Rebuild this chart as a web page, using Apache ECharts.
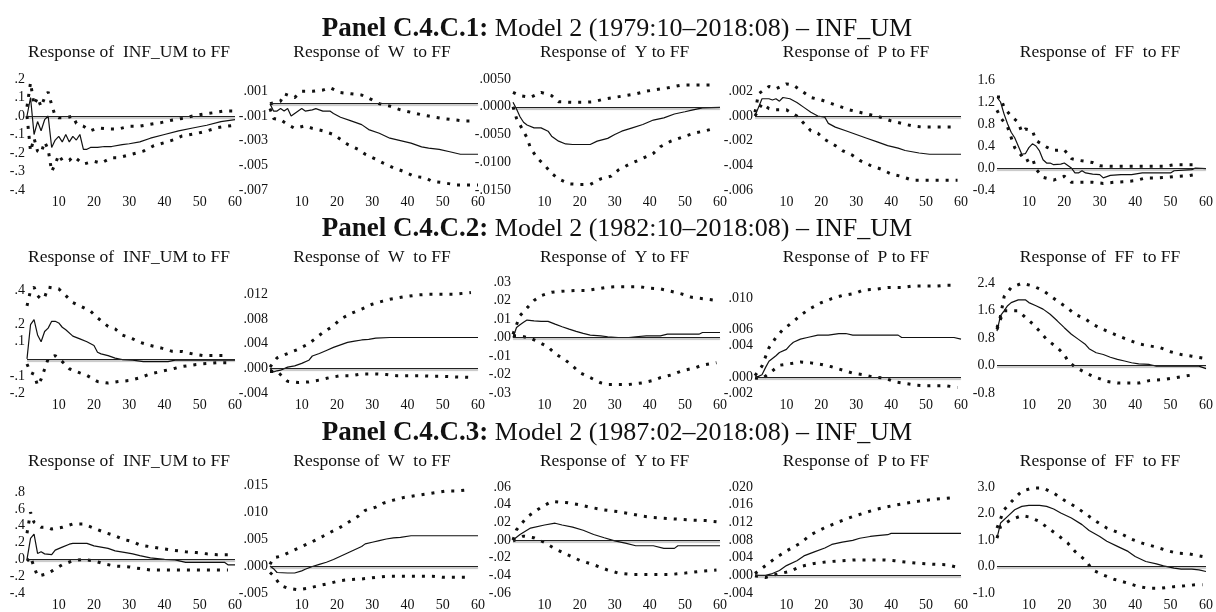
<!DOCTYPE html>
<html>
<head>
<meta charset="utf-8">
<script src="https://cdn.jsdelivr.net/npm/echarts@6/dist/echarts.min.js"></script>
<style>
  html, body { margin: 0; padding: 0; background: #fff; }
  #chart { width: 1216px; height: 612px; }
</style>
</head>
<body>
<div id="chart"></div>
<script>
// ---- Horizon axis (months after the FF shock) ----
const periodTicks = [10, 20, 30, 40, 50, 60];

// ---- Panel headings ----
const panelIds = ['Panel C.4.C.1:', 'Panel C.4.C.2:', 'Panel C.4.C.3:'];
const panelSamples = [' Model 2 (1979:10\u20132018:08) \u2013 INF_UM',
                      ' Model 2 (1982:10\u20132018:08) \u2013 INF_UM',
                      ' Model 2 (1987:02\u20132018:08) \u2013 INF_UM'];
const responseTitles = ['Response of  INF_UM to FF', 'Response of  W  to FF',
                        'Response of  Y to FF', 'Response of  P to FF', 'Response of  FF  to FF'];

// ================= Panel C.4.C.1 (1979:10–2018:08) =================
const inf1Ticks = ['.2', '.1', '.0', '-.1', '-.2', '-.3', '-.4'];
const inf1Resp = [[1,0],[2,0.1],[3,-0.1],[4,-0.03],[5,-0.08],[6,-0.02],[7,0.0],[8,-0.17],[9,-0.13],[10,-0.11],[11,-0.14],[12,-0.1],[13,-0.14],[14,-0.11],[15,-0.13],[16,-0.1],[17,-0.18],[18,-0.18],[19,-0.17],[21,-0.17],[23,-0.165],[25,-0.165],[28,-0.155],[30,-0.15],[33,-0.14],[36,-0.12],[40,-0.1],[44,-0.08],[48,-0.065],[52,-0.05],[56,-0.03],[60,-0.02]];
const inf1Upper = [[1,0.05],[2,0.18],[3,0.06],[4,0.1],[5,0.05],[6,0.1],[7,0.13],[8,0.06],[9,0.0],[10,-0.01],[12,-0.01],[14,0.0],[15,-0.04],[17,-0.055],[19,-0.08],[21,-0.065],[24,-0.07],[27,-0.07],[30,-0.055],[33,-0.055],[36,-0.045],[39,-0.036],[42,-0.023],[45,-0.013],[48,0.0],[51,0.01],[54,0.018],[57,0.027],[60,0.027]];
const inf1Lower = [[1,0],[2,-0.19],[3,-0.12],[4,-0.19],[5,-0.2],[6,-0.14],[7,-0.18],[8,-0.3],[9,-0.26],[10,-0.21],[11,-0.24],[13,-0.24],[14,-0.22],[15,-0.23],[17,-0.26],[20,-0.245],[22,-0.255],[25,-0.225],[27,-0.225],[30,-0.21],[34,-0.19],[37,-0.16],[40,-0.144],[43,-0.126],[45,-0.108],[49,-0.095],[52,-0.081],[55,-0.063],[58,-0.054],[60,-0.05]];

const w1Ticks = ['.001', '-.001', '-.003', '-.005', '-.007'];
const w1Resp = [[1,0],[2,-0.0006],[3,-0.0006],[4,-0.0004],[5,-0.0006],[6,-0.0004],[7,-0.001],[9,-0.0006],[10,-0.0004],[11,-0.0006],[13,-0.0005],[14,-0.0004],[16,-0.0006],[18,-0.0006],[19,-0.0008],[21,-0.0011],[24,-0.0014],[27,-0.0017],[29,-0.0021],[32,-0.0024],[35,-0.0028],[38,-0.003],[41,-0.0032],[44,-0.0035],[46,-0.0036],[49,-0.0037],[52,-0.0039],[55,-0.0041],[60,-0.0041]];
const w1Upper = [[1,0],[4,0.0002],[5,0.0008],[8,0.0005],[10,0.001],[13,0.001],[16,0.0011],[18,0.0013],[21,0.0009],[24,0.0008],[27,0.0007],[30,0.0003],[32,0.0],[35,-0.0002],[38,-0.0005],[41,-0.0007],[44,-0.0009],[46,-0.001],[50,-0.0012],[53,-0.0013],[56,-0.0014],[59,-0.0014]];
const w1Lower = [[1,-0.0004],[2,-0.0012],[4,-0.0013],[6,-0.0017],[8,-0.002],[11,-0.0018],[13,-0.002],[16,-0.0022],[19,-0.0025],[21,-0.0029],[23,-0.0033],[26,-0.0037],[28,-0.0041],[31,-0.0045],[33,-0.0048],[36,-0.0052],[39,-0.0055],[42,-0.0059],[45,-0.006],[47,-0.0063],[50,-0.0064],[54,-0.0066],[57,-0.0066],[60,-0.0066]];

const y1Ticks = ['.0050', '.0000', '-.0050', '-.0100', '-.0150'];
const y1Resp = [[1,0.0008],[2,-0.0004],[3,-0.0018],[4,-0.0028],[5,-0.0033],[7,-0.0038],[9,-0.0038],[11,-0.0044],[12,-0.0053],[14,-0.0062],[16,-0.0067],[18,-0.0068],[21,-0.0068],[23,-0.0068],[25,-0.0062],[28,-0.0057],[30,-0.005],[32,-0.0044],[35,-0.0038],[38,-0.0032],[41,-0.0024],[44,-0.002],[47,-0.0013],[50,-0.0009],[52,-0.0006],[55,-0.0002],[60,-0.0001]];
const y1Upper = [[1,0.0026],[3,0.002],[6,0.0017],[9,0.0026],[12,0.002],[14,0.0009],[18,0.0008],[21,0.0008],[24,0.0009],[27,0.0014],[30,0.0017],[33,0.002],[36,0.0023],[39,0.0028],[42,0.0031],[45,0.0034],[49,0.0039],[52,0.0039],[55,0.0039],[59,0.0039]];
const y1Lower = [[1,0],[2,-0.0021],[5,-0.0056],[6,-0.0075],[8,-0.0093],[10,-0.0105],[12,-0.012],[14,-0.013],[17,-0.0139],[20,-0.014],[23,-0.014],[26,-0.013],[29,-0.0125],[31,-0.0114],[34,-0.0104],[38,-0.0093],[41,-0.0084],[43,-0.0072],[46,-0.0062],[50,-0.0053],[53,-0.0047],[56,-0.0043],[59,-0.0038]];

const p1Ticks = ['.002', '.000', '-.002', '-.004', '-.006'];
const p1Resp = [[1,0],[2,0.0007],[3,0.0014],[5,0.0014],[6,0.0013],[7,0.0014],[8,0.0012],[9,0.0015],[11,0.0014],[13,0.0011],[15,0.0007],[17,0.0003],[19,0.0],[21,-0.0001],[22,-0.0006],[24,-0.0009],[27,-0.0012],[30,-0.0015],[33,-0.0018],[36,-0.0021],[39,-0.0024],[42,-0.0026],[44,-0.0028],[48,-0.003],[51,-0.0031],[60,-0.0031]];
const p1Upper = [[1,0.0003],[2,0.0018],[5,0.0024],[7,0.0022],[10,0.0026],[12,0.0025],[15,0.0019],[17,0.0015],[20,0.0013],[22,0.0011],[25,0.0008],[28,0.0005],[31,0.0003],[34,0.0001],[37,-0.0001],[40,-0.0004],[43,-0.0006],[46,-0.0008],[49,-0.0009],[52,-0.0009],[56,-0.0009],[59,-0.0009]];
const p1Lower = [[1,0],[3,0.001],[5,0.0006],[7,0.0005],[10,0.0005],[13,0],[15,-0.0006],[17,-0.0012],[19,-0.0014],[21,-0.0019],[24,-0.0024],[26,-0.0028],[29,-0.0032],[31,-0.0036],[34,-0.004],[37,-0.0043],[40,-0.0047],[43,-0.0049],[46,-0.0052],[49,-0.0052],[52,-0.0052],[56,-0.0052],[59,-0.0052]];

const ff1Ticks = ['1.6', '1.2', '0.8', '0.4', '0.0', '-0.4'];
const ff1Resp = [[1,1.29],[2,1.2],[3,0.98],[4,0.8],[5,0.65],[6,0.55],[7,0.4],[8,0.25],[9,0.26],[10,0.37],[11,0.44],[12,0.4],[13,0.31],[14,0.15],[15,0.09],[16,0.09],[17,0.06],[19,0.07],[20,0.09],[22,0.0],[23,-0.09],[24,-0.09],[25,-0.05],[26,-0.09],[28,-0.11],[30,-0.12],[31,-0.18],[33,-0.135],[36,-0.12],[39,-0.12],[42,-0.09],[47,-0.09],[50,-0.09],[51,-0.05],[56,-0.03],[57,0.0],[60,-0.01]];
const ff1Upper = [[1,1.29],[2,1.29],[3,1.1],[5,0.94],[7,0.83],[8,0.65],[9,0.71],[11,0.68],[12,0.5],[15,0.38],[17,0.32],[20,0.33],[22,0.17],[24,0.14],[28,0.1],[30,0.04],[33,0.03],[37,0.03],[39,0.03],[42,0.03],[45,0.03],[48,0.03],[51,0.06],[54,0.06],[57,0.06]];
const ff1Lower = [[1,1.05],[2,0.92],[4,0.74],[6,0.37],[8,0.22],[9,0.12],[11,0.18],[12,-0.02],[14,-0.17],[17,-0.22],[20,-0.15],[22,-0.26],[25,-0.26],[28,-0.26],[31,-0.28],[34,-0.26],[37,-0.25],[40,-0.23],[43,-0.18],[46,-0.18],[49,-0.17],[52,-0.15],[55,-0.14],[58,-0.11]];

// ================= Panel C.4.C.2 (1982:10–2018:08) =================
const inf2Ticks = ['.4', '.2', '.1', '-.1', '-.2'];
const inf2Resp = [[1,0],[2,0.2],[3,0.23],[4,0.14],[5,0.1],[6,0.16],[7,0.18],[8,0.22],[9,0.22],[10,0.21],[11,0.185],[12,0.17],[14,0.133],[16,0.117],[18,0.1],[20,0.078],[21,0.039],[22,0.029],[24,0.019],[26,0.004],[28,-0.004],[31,-0.008],[34,-0.016],[37,-0.016],[41,-0.016],[43,-0.008],[47,-0.008],[54,-0.008],[60,-0.008]];
const inf2Upper = [[1,0.31],[2,0.4],[3,0.42],[4,0.37],[5,0.35],[6,0.36],[7,0.42],[10,0.41],[12,0.37],[14,0.33],[16,0.31],[19,0.28],[21,0.24],[24,0.19],[26,0.175],[28,0.14],[31,0.117],[33,0.097],[36,0.078],[39,0.064],[42,0.045],[45,0.043],[48,0.029],[51,0.019],[54,0.019],[57,0.019]];
const inf2Lower = [[1,-0.03],[2,-0.08],[3,-0.09],[4,-0.156],[5,-0.12],[6,-0.06],[7,0.0],[9,0.019],[11,-0.016],[13,-0.058],[16,-0.082],[18,-0.097],[21,-0.133],[24,-0.142],[27,-0.133],[30,-0.127],[33,-0.111],[36,-0.088],[39,-0.074],[43,-0.055],[45,-0.045],[49,-0.033],[51,-0.029],[55,-0.023],[58,-0.023]];

const w2Ticks = ['.012', '.008', '.004', '.000', '-.004'];
const w2Resp = [[1,0],[2,-0.0006],[3,-0.0004],[4,-0.0003],[6,0.0002],[8,0.0004],[10,0.0008],[12,0.0013],[13,0.002],[15,0.0024],[17,0.0029],[19,0.0034],[21,0.0038],[23,0.0042],[25,0.0044],[27,0.0046],[29,0.0047],[31,0.0049],[35,0.005],[40,0.005],[60,0.005]];
const w2Upper = [[1,0.0002],[3,0.0017],[6,0.0024],[9,0.0031],[12,0.004],[14,0.0049],[16,0.0058],[19,0.0069],[21,0.008],[24,0.0089],[27,0.0096],[30,0.0104],[33,0.0109],[35,0.0112],[39,0.0116],[43,0.0119],[46,0.012],[50,0.012],[53,0.012],[58,0.0123]];
const w2Lower = [[1,-0.0005],[3,-0.0005],[6,-0.0021],[9,-0.0023],[12,-0.0022],[15,-0.0019],[18,-0.0015],[21,-0.0012],[24,-0.0012],[27,-0.0009],[31,-0.0009],[34,-0.001],[37,-0.0012],[40,-0.0012],[44,-0.0012],[47,-0.0013],[50,-0.0013],[54,-0.0014],[59,-0.0015]];

const y2Ticks = ['.03', '.02', '.01', '.00', '-.01', '-.02', '-.03'];
const y2Resp = [[1,0],[2,0.0054],[3,0.0069],[4,0.0082],[5,0.0094],[7,0.009],[9,0.0087],[11,0.0087],[13,0.0072],[15,0.0058],[17,0.0045],[19,0.0033],[21,0.0022],[23,0.0013],[26,0.0009],[28,0.0004],[31,0],[34,0],[36,0.0004],[39,0.0009],[43,0.0009],[45,0.0018],[54,0.0018],[55,0.0027],[60,0.0027]];
const y2Upper = [[1,0.0018],[2,0.0069],[3,0.0118],[5,0.016],[7,0.02],[9,0.0226],[12,0.0245],[15,0.025],[19,0.0254],[22,0.0254],[25,0.0263],[28,0.0272],[31,0.0275],[34,0.0275],[37,0.0275],[40,0.0266],[43,0.0263],[46,0.025],[49,0.0236],[52,0.0217],[56,0.0208],[59,0.02]];
const y2Lower = [[1,0.0009],[3,0.0009],[6,-0.0004],[8,-0.0022],[11,-0.0051],[13,-0.0087],[16,-0.0123],[18,-0.0154],[20,-0.019],[23,-0.0217],[26,-0.0245],[28,-0.0254],[31,-0.0254],[34,-0.0254],[38,-0.0245],[41,-0.0232],[43,-0.0217],[46,-0.0203],[49,-0.0181],[53,-0.0163],[55,-0.0149],[59,-0.0136]];

const p2Ticks = ['.010', '.006', '.004', '.000', '-.002'];
const p2Resp = [[1,0],[2,0.0001],[3,0.0003],[4,0.0012],[5,0.002],[7,0.0027],[8,0.0031],[10,0.0035],[11,0.004],[12,0.0044],[14,0.0048],[16,0.005],[19,0.0053],[22,0.0053],[25,0.0055],[27,0.0055],[29,0.0053],[42,0.0053],[43,0.005],[58,0.005],[60,0.0048]];
const p2Upper = [[1,0.0002],[3,0.0014],[5,0.0037],[7,0.005],[9,0.006],[12,0.007],[14,0.0078],[17,0.0087],[20,0.0094],[23,0.0099],[26,0.0103],[30,0.0106],[32,0.011],[36,0.0111],[39,0.0113],[43,0.0113],[46,0.0115],[49,0.0115],[53,0.0115],[56,0.0116],[59,0.0116]];
const p2Lower = [[1,-0.0001],[3,-0.0002],[6,0.0008],[8,0.0015],[11,0.0017],[14,0.0019],[17,0.0018],[20,0.0016],[23,0.0013],[26,0.0009],[29,0.0005],[32,0.0003],[35,0],[38,-0.0001],[41,-0.0006],[44,-0.0008],[47,-0.001],[50,-0.0011],[53,-0.0011],[56,-0.0011],[59,-0.0013]];

const ff2Ticks = ['2.4', '1.6', '0.8', '0.0', '-0.8'];
const ff2Resp = [[1,1.0],[2,1.45],[3,1.59],[4,1.74],[5,1.83],[7,1.91],[9,1.91],[10,1.83],[12,1.74],[14,1.64],[16,1.49],[18,1.3],[20,1.1],[22,0.91],[24,0.76],[26,0.61],[27,0.49],[29,0.37],[31,0.32],[33,0.24],[35,0.18],[37,0.13],[39,0.08],[41,0.05],[44,0.03],[46,-0.02],[58,-0.02],[60,-0.09]];
const ff2Upper = [[1,1.1],[2,1.44],[3,2.0],[5,2.27],[8,2.39],[11,2.32],[14,2.18],[16,2.03],[18,1.88],[21,1.67],[23,1.49],[26,1.35],[28,1.2],[31,1.05],[33,0.96],[36,0.83],[39,0.71],[41,0.63],[44,0.57],[47,0.52],[50,0.4],[53,0.32],[56,0.27],[59,0.22]];
const ff2Lower = [[1,1.05],[2,1.35],[3,1.59],[7,1.59],[9,1.4],[11,1.22],[13,1.0],[15,0.76],[18,0.52],[20,0.32],[21,0.13],[23,-0.04],[26,-0.21],[28,-0.31],[32,-0.46],[35,-0.51],[38,-0.51],[41,-0.51],[44,-0.44],[48,-0.41],[51,-0.36],[54,-0.31],[57,-0.26]];

// ================= Panel C.4.C.3 (1987:02–2018:08) =================
const inf3Ticks = ['.8', '.6', '.4', '.2', '.0', '-.2', '-.4'];
const inf3Resp = [[1,0],[2,0.25],[3,0.3],[4,0.07],[5,0.09],[6,0.065],[8,0.055],[9,0.11],[11,0.145],[13,0.18],[14,0.19],[18,0.19],[20,0.16],[22,0.145],[24,0.13],[26,0.1],[29,0.08],[31,0.065],[33,0.044],[36,0.018],[40,0],[43,-0.007],[46,-0.036],[57,-0.036],[58,-0.065],[60,-0.065]];
const inf3Upper = [[1,0.31],[2,0.56],[3,0.44],[5,0.38],[7,0.38],[8,0.36],[11,0.38],[14,0.42],[17,0.42],[20,0.37],[23,0.32],[26,0.28],[28,0.24],[31,0.21],[33,0.17],[36,0.15],[39,0.13],[42,0.11],[46,0.09],[49,0.08],[52,0.065],[55,0.055],[58,0.055]];
const inf3Lower = [[1,-0.02],[2,0.03],[3,-0.09],[4,-0.2],[6,-0.18],[8,-0.14],[11,-0.065],[14,-0.018],[17,0],[20,-0.018],[23,-0.055],[26,-0.08],[30,-0.09],[33,-0.11],[36,-0.127],[39,-0.127],[43,-0.127],[46,-0.127],[49,-0.127],[52,-0.127],[55,-0.127],[58,-0.127]];

const w3Ticks = ['.015', '.010', '.005', '.000', '-.005'];
const w3Resp = [[1,0],[2,-0.0005],[3,-0.0012],[6,-0.0013],[8,-0.0013],[10,-0.0009],[11,-0.0006],[13,-0.0001],[15,0.0003],[17,0.0007],[19,0.0012],[21,0.0018],[23,0.0024],[25,0.003],[27,0.0036],[28,0.0041],[30,0.0044],[32,0.0047],[34,0.005],[36,0.0052],[38,0.0053],[41,0.0056],[44,0.0056],[60,0.0056]];
const w3Upper = [[1,0.0003],[2,0.0015],[4,0.0018],[7,0.0027],[10,0.0036],[13,0.0045],[16,0.0055],[18,0.0062],[21,0.0072],[23,0.008],[26,0.0092],[28,0.0103],[31,0.0109],[33,0.0116],[36,0.0122],[39,0.0127],[42,0.013],[45,0.0133],[48,0.0136],[51,0.0139],[54,0.0139],[57,0.0141]];
const w3Lower = [[1,-0.0012],[2,-0.0018],[4,-0.0036],[6,-0.0041],[9,-0.0044],[12,-0.0041],[15,-0.0036],[18,-0.0032],[21,-0.0027],[24,-0.0025],[27,-0.0024],[31,-0.0021],[34,-0.0019],[37,-0.0019],[40,-0.0019],[44,-0.0019],[47,-0.0019],[50,-0.0021],[53,-0.0021],[57,-0.0021]];

const y3Ticks = ['.06', '.04', '.02', '.00', '-.02', '-.04', '-.06'];
const y3Resp = [[1,0],[3,0.0062],[6,0.0135],[10,0.017],[13,0.019],[15,0.017],[18,0.0145],[21,0.011],[24,0.0062],[27,0.0025],[30,-0.001],[33,-0.0036],[36,-0.0065],[41,-0.0065],[44,-0.0095],[47,-0.0095],[48,-0.0065],[60,-0.0065]];
const y3Upper = [[1,0.0],[2,0.0116],[5,0.026],[9,0.037],[12,0.0436],[16,0.0425],[20,0.04],[23,0.037],[27,0.034],[31,0.032],[34,0.03],[38,0.027],[41,0.0255],[45,0.0244],[49,0.0233],[52,0.0225],[56,0.022],[59,0.0207]];
const y3Lower = [[1,-0.001],[4,0.0044],[7,0.0025],[10,-0.0029],[13,-0.01],[17,-0.0175],[20,-0.023],[24,-0.028],[28,-0.034],[31,-0.0375],[35,-0.039],[38,-0.039],[42,-0.039],[46,-0.039],[50,-0.0375],[54,-0.0356],[59,-0.034]];

const p3Ticks = ['.020', '.016', '.012', '.008', '.004', '.000', '-.004'];
const p3Resp = [[1,0],[4,0],[6,0.0004],[8,0.0011],[10,0.0022],[13,0.0033],[15,0.0044],[18,0.0053],[21,0.0062],[23,0.007],[26,0.0075],[29,0.0079],[31,0.0084],[34,0.0088],[36,0.009],[39,0.0092],[40,0.0095],[60,0.0095]];
const p3Upper = [[1,0.0004],[4,0.0022],[7,0.004],[10,0.0055],[14,0.0073],[17,0.0092],[21,0.0108],[25,0.0121],[29,0.0133],[33,0.0143],[36,0.015],[40,0.0157],[44,0.0163],[48,0.0168],[52,0.0172],[55,0.0174],[58,0.0176]];
const p3Lower = [[1,-0.0001],[4,-0.0005],[7,0.0002],[11,0.0009],[14,0.002],[18,0.0027],[22,0.0031],[26,0.0033],[30,0.0035],[34,0.0035],[38,0.0035],[41,0.0033],[44,0.003],[48,0.0027],[52,0.0025],[56,0.0024],[59,0.0018]];

const ff3Ticks = ['3.0', '2.0', '1.0', '0.0', '-1.0'];
const ff3Resp = [[1,1.07],[2,1.64],[4,1.89],[6,2.14],[8,2.27],[10,2.31],[13,2.31],[15,2.27],[17,2.17],[19,2.02],[22,1.83],[25,1.58],[27,1.36],[30,1.13],[32,0.95],[35,0.76],[38,0.57],[40,0.38],[43,0.19],[46,0.1],[48,0.025],[51,-0.06],[53,-0.1],[56,-0.1],[58,-0.13],[60,-0.19]];
const ff3Upper = [[1,1.45],[3,2.14],[6,2.58],[8,2.84],[11,2.96],[14,2.96],[17,2.77],[20,2.5],[23,2.27],[26,1.99],[29,1.7],[32,1.45],[36,1.24],[39,1.03],[42,0.88],[46,0.73],[49,0.6],[52,0.5],[55,0.48],[59,0.38]];
const ff3Lower = [[1,1.07],[2,1.51],[5,1.77],[8,1.92],[10,1.87],[13,1.7],[15,1.49],[18,1.2],[21,0.88],[23,0.57],[26,0.23],[28,-0.13],[31,-0.32],[34,-0.48],[38,-0.63],[41,-0.76],[44,-0.82],[47,-0.82],[51,-0.76],[54,-0.73],[57,-0.69],[59,-0.69]];

// ---- Small-multiple layout (pixels) ----
const FONT = '"Liberation Serif", "Times New Roman", serif';
const colX = [[27, 235], [270, 478], [513, 720], [755, 961], [997, 1207]];
const rowBottom = [190, 393, 597];
const panelTitleY = [29, 229, 433];
const responseTitleY = [52, 257, 461];

const plots = [
  // row 0
  { row: 0, col: 0, ticks: inf1Ticks, min: -0.4,   max: 0.2,   top: 79,  resp: inf1Resp, upper: inf1Upper, lower: inf1Lower },
  { row: 0, col: 1, ticks: w1Ticks,   min: -0.007, max: 0.002, top: 79,  resp: w1Resp,   upper: w1Upper,   lower: w1Lower },
  { row: 0, col: 2, ticks: y1Ticks,   min: -0.015, max: 0.005, top: 79,  resp: y1Resp,   upper: y1Upper,   lower: y1Lower },
  { row: 0, col: 3, ticks: p1Ticks,   min: -0.006, max: 0.003, top: 79,  resp: p1Resp,   upper: p1Upper,   lower: p1Lower },
  { row: 0, col: 4, ticks: ff1Ticks,  min: -0.4,   max: 1.6,   top: 80,  resp: ff1Resp,  upper: ff1Upper,  lower: ff1Lower },
  // row 1
  { row: 1, col: 0, ticks: inf2Ticks, min: -0.2,   max: 0.45,  top: 282, resp: inf2Resp, upper: inf2Upper, lower: inf2Lower },
  { row: 1, col: 1, ticks: w2Ticks,   min: -0.004, max: 0.014, top: 282, resp: w2Resp,   upper: w2Upper,   lower: w2Lower },
  { row: 1, col: 2, ticks: y2Ticks,   min: -0.03,  max: 0.03,  top: 282, resp: y2Resp,   upper: y2Upper,   lower: y2Lower },
  { row: 1, col: 3, ticks: p2Ticks,   min: -0.002, max: 0.012, top: 282, resp: p2Resp,   upper: p2Upper,   lower: p2Lower },
  { row: 1, col: 4, ticks: ff2Ticks,  min: -0.8,   max: 2.4,   top: 283, resp: ff2Resp,  upper: ff2Upper,  lower: ff2Lower },
  // row 2
  { row: 2, col: 0, ticks: inf3Ticks, min: -0.4,   max: 0.8,   top: 492, resp: inf3Resp, upper: inf3Upper, lower: inf3Lower },
  { row: 2, col: 1, ticks: w3Ticks,   min: -0.005, max: 0.015, top: 485, resp: w3Resp,   upper: w3Upper,   lower: w3Lower },
  { row: 2, col: 2, ticks: y3Ticks,   min: -0.06,  max: 0.06,  top: 487, resp: y3Resp,   upper: y3Upper,   lower: y3Lower },
  { row: 2, col: 3, ticks: p3Ticks,   min: -0.004, max: 0.020, top: 487, resp: p3Resp,   upper: p3Upper,   lower: p3Lower },
  { row: 2, col: 4, ticks: ff3Ticks,  min: -1.0,   max: 3.0,   top: 487, resp: ff3Resp,  upper: ff3Upper,  lower: ff3Lower }
];

const grid = [], xAxis = [], yAxis = [], series = [], title = [];

// Panel headings: bold identifier followed by the sample description
panelIds.forEach((id, r) => {
  title.push({
    text: '{b|' + id + '}' + panelSamples[r],
    left: 617, top: panelTitleY[r] - 15, textAlign: 'center', padding: 0,
    textStyle: {
      fontFamily: FONT, fontSize: 26, fontWeight: 'normal', color: '#111', lineHeight: 30,
      rich: { b: { fontFamily: FONT, fontSize: 27, fontWeight: 'bold', color: '#111', lineHeight: 30 } }
    }
  });
});

const zeroLine = {
  symbol: ['none', 'none'], silent: true, animation: false,
  label: { show: false },
  lineStyle: { color: '#222', width: 1, type: 'solid',
               shadowColor: 'rgba(0,0,0,0.45)', shadowOffsetY: 1.5, shadowBlur: 1 },
  data: [{ yAxis: 0 }]
};

plots.forEach((p, i) => {
  const [x0, x1] = colX[p.col];
  const bottom = rowBottom[p.row];
  grid.push({ left: x0, top: p.top, width: x1 - x0, height: bottom - p.top });

  title.push({
    text: responseTitles[p.col],
    left: (x0 + x1) / 2 - 2, top: responseTitleY[p.row] - 10, textAlign: 'center', padding: 0,
    textStyle: { fontFamily: FONT, fontSize: 17.5, fontWeight: 'normal', color: '#111', lineHeight: 20 }
  });

  xAxis.push({
    gridIndex: i, type: 'value', min: 1, max: 60,
    axisLine: { show: false }, axisTick: { show: false }, splitLine: { show: false },
    axisLabel: { customValues: periodTicks, fontFamily: FONT, fontSize: 14, color: '#111', margin: 5 }
  });

  const tickVals = p.ticks.map(parseFloat);
  yAxis.push({
    gridIndex: i, type: 'value', min: p.min, max: p.max,
    axisLine: { show: false }, axisTick: { show: false }, splitLine: { show: false },
    axisLabel: {
      customValues: tickVals, fontFamily: FONT, fontSize: 14, color: '#111', margin: 2,
      formatter: v => {
        const k = tickVals.findIndex(t => Math.abs(t - v) < 1e-9);
        return k >= 0 ? p.ticks[k] : '';
      }
    }
  });

  const common = { type: 'line', xAxisIndex: i, yAxisIndex: i, showSymbol: false, symbol: 'none',
                   silent: true, animation: false, clip: false };
  series.push(Object.assign({}, common, {
    data: p.resp, z: 3,
    lineStyle: { color: '#111', width: 1.2 },
    markLine: zeroLine
  }));
  [p.upper, p.lower].forEach(band => {
    series.push(Object.assign({}, common, {
      data: band, z: 4,
      lineStyle: { color: '#111', width: 3, type: [3, 7], cap: 'butt' }
    }));
  });
});

const chart = echarts.init(document.getElementById('chart'), null, { renderer: 'canvas' });
chart.setOption({ animation: false, backgroundColor: '#fff', title, grid, xAxis, yAxis, series });
</script>
</body>
</html>
